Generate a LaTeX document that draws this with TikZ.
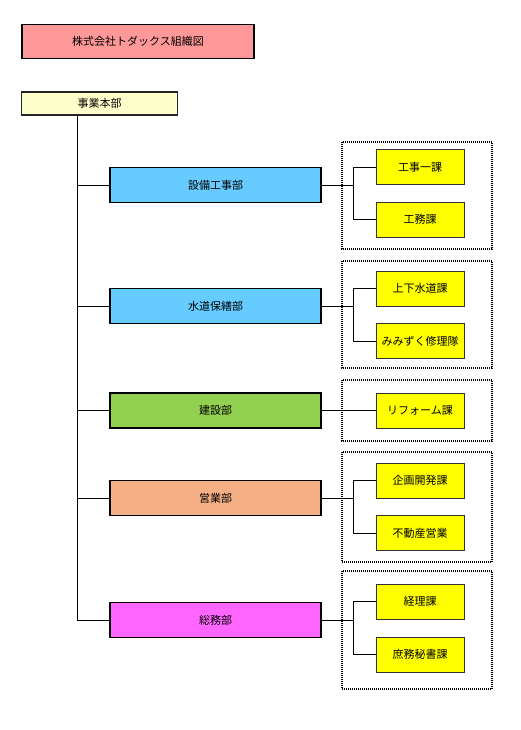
\documentclass[tikz,border=0pt]{standalone}
\usepackage{fontspec}
\setmainfont{Noto Sans CJK JP}
\usetikzlibrary{positioning}
\definecolor{titlepink}{RGB}{255, 153, 153}
\definecolor{hqyellow}{RGB}{255, 255, 204}
\definecolor{deptblue}{RGB}{102, 204, 255}
\definecolor{deptgreen}{RGB}{146, 208, 80}
\definecolor{deptorange}{RGB}{244, 176, 132}
\definecolor{deptpink}{RGB}{255, 102, 255}
\definecolor{sectyellow}{RGB}{255, 255, 0}

\begin{document}
\begin{tikzpicture}[x=1pt, y=-1pt]
    \tikzstyle{title} = [rectangle, minimum width=232pt, minimum height=34pt,
                         fill=titlepink, draw=black, line width=1.6pt,
                         inner sep=0pt, font=\fontsize{11}{13}\selectfont]
    \tikzstyle{hq}    = [rectangle, minimum width=156pt, minimum height=23pt,
                         fill=hqyellow, draw=black!85, line width=1.4pt,
                         inner sep=0pt, font=\fontsize{11}{13}\selectfont]
    \tikzstyle{dept}  = [rectangle, minimum width=211pt, minimum height=35pt,
                         draw=black, line width=1.5pt,
                         inner sep=0pt, font=\fontsize{11}{13}\selectfont]
    \tikzstyle{sect}  = [rectangle, minimum width=88pt, minimum height=35pt,
                         fill=sectyellow, draw=black!80, line width=0.9pt,
                         inner sep=0pt, font=\fontsize{11}{13}\selectfont]
    \tikzstyle{group} = [draw=black, dash pattern=on 1pt off 1pt, line width=1.2pt]
    \tikzstyle{link}  = [draw=black, line width=0.8pt]

    \useasboundingbox (0,0) rectangle (520,730);

    % title and head office
    \node[title] (title) at (138,41.5) {株式会社トダックス組織図};
    \node[hq]    (hq)    at (99.5,103.5) {事業本部};

    % dotted frames round the sections
    \draw[group] (342,142) rectangle (492,249);
    \draw[group] (342,261) rectangle (492,368);
    \draw[group] (342,380) rectangle (492,441);
    \draw[group] (342,452) rectangle (492,562);
    \draw[group] (342,571) rectangle (492,689);

    % departments
    \node[dept, fill=deptblue]   (setsubi)  at (215.5,185) {設備工事部};
    \node[dept, fill=deptblue]   (suido)    at (215.5,306) {水道保繕部};
    \node[dept, fill=deptgreen]  (kensetsu) at (215.5,410.5) {建設部};
    \node[dept, fill=deptorange] (eigyo)    at (215.5,498) {営業部};
    \node[dept, fill=deptpink]   (somu)     at (215.5,620) {総務部};

    % sections
    \node[sect] (koji1)   at (420,167)   {工事一課};
    \node[sect] (komu)    at (420,219.5) {工務課};
    \node[sect] (jogesui) at (420,288.5) {上下水道課};
    \node[sect] (mimizuku) at (420,341)  {みみずく修理隊};
    \node[sect] (reform)  at (420,410.5) {リフォーム課};
    \node[sect] (kikaku)  at (420,480.5) {企画開発課};
    \node[sect] (fudosan) at (420,533)   {不動産営業};
    \node[sect] (keiri)   at (420,601.5) {経理課};
    \node[sect] (shomu)   at (420,654.5) {庶務秘書課};

    % trunk from head office
    \coordinate (trunktop) at (77,115);
    \coordinate (trunkbot) at (77,620);
    \draw[link] (trunktop) -- (trunkbot);
    \draw[link] (setsubi.west)  -- (setsubi.west -| trunktop);
    \draw[link] (suido.west)    -- (suido.west -| trunktop);
    \draw[link] (kensetsu.west) -- (kensetsu.west -| trunktop);
    \draw[link] (eigyo.west)    -- (eigyo.west -| trunktop);
    \draw[link] (somu.west)     -- (somu.west -| trunktop);

    % branches to sections
    \coordinate (br1) at (353,185);
    \coordinate (br2) at (353,306);
    \coordinate (br4) at (353,498);
    \coordinate (br5) at (353,620);
    \draw[link] (setsubi.east) -- (br1);
    \draw[link] (br1) |- (koji1.west);
    \draw[link] (br1) |- (komu.west);
    \draw[link] (suido.east) -- (br2);
    \draw[link] (br2) |- (jogesui.west);
    \draw[link] (br2) |- (mimizuku.west);
    \draw[link] (kensetsu.east) -- (reform.west);
    \draw[link] (eigyo.east) -- (br4);
    \draw[link] (br4) |- (kikaku.west);
    \draw[link] (br4) |- (fudosan.west);
    \draw[link] (somu.east) -- (br5);
    \draw[link] (br5) |- (keiri.west);
    \draw[link] (br5) |- (shomu.west);
\end{tikzpicture}
\end{document}
